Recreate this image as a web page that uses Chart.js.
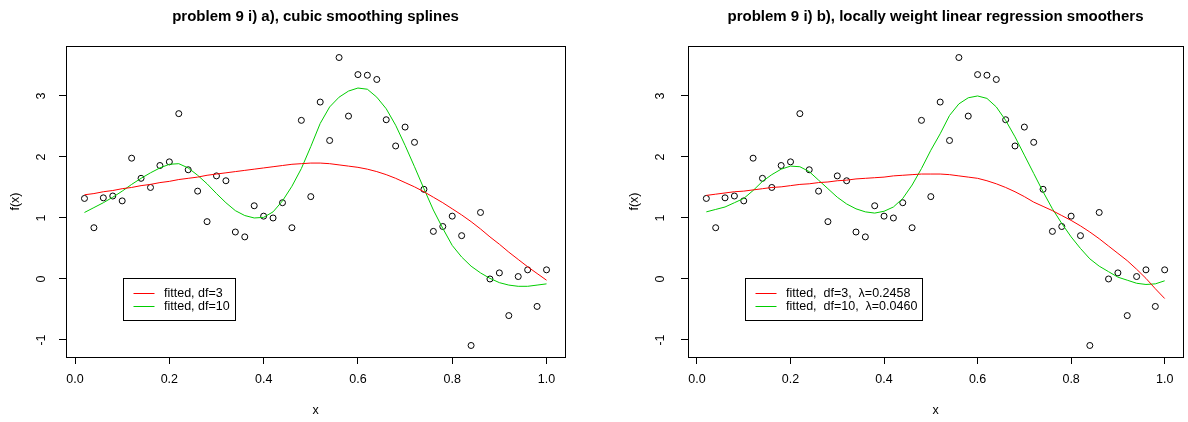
<!DOCTYPE html>
<html>
<head>
<meta charset="utf-8">
<script src="https://cdn.jsdelivr.net/npm/chart.js@4.4.1/dist/chart.umd.min.js"></script>
<style>
  html, body { margin: 0; padding: 0; background: #fff; }
  #wrap { position: relative; width: 1188px; height: 422px; overflow: hidden; }
  canvas { position: absolute; top: 0; }
  #left { left: 0; }
  #right { left: 622px; }
</style>
</head>
<body>
<div id="wrap">
  <canvas id="left" width="594" height="422"></canvas>
  <canvas id="right" width="566" height="422"></canvas>
</div>
<script>
const xs = [0.02, 0.04, 0.06, 0.08, 0.10, 0.12, 0.14, 0.16, 0.18, 0.20,
            0.22, 0.24, 0.26, 0.28, 0.30, 0.32, 0.34, 0.36, 0.38, 0.40,
            0.42, 0.44, 0.46, 0.48, 0.50, 0.52, 0.54, 0.56, 0.58, 0.60,
            0.62, 0.64, 0.66, 0.68, 0.70, 0.72, 0.74, 0.76, 0.78, 0.80,
            0.82, 0.84, 0.86, 0.88, 0.90, 0.92, 0.94, 0.96, 0.98, 1.00];
const yObs = [1.32, 0.84, 1.33, 1.36, 1.28, 1.98, 1.65, 1.50, 1.86, 1.92,
              2.71, 1.79, 1.44, 0.94, 1.69, 1.61, 0.77, 0.69, 1.20, 1.03,
              1.00, 1.25, 0.84, 2.60, 1.35, 2.90, 2.27, 3.63, 2.67, 3.35,
              3.34, 3.27, 2.61, 2.18, 2.49, 2.24, 1.47, 0.78, 0.86, 1.03,
              0.71, -1.09, 1.09, 0.00, 0.10, -0.60, 0.04, 0.15, -0.45, 0.15];

// a) smoothing splines
const splineDf3 = [1.38, 1.40, 1.43, 1.45, 1.48, 1.50, 1.53, 1.55, 1.58, 1.60,
                   1.63, 1.65, 1.67, 1.70, 1.72, 1.74, 1.76, 1.78, 1.80, 1.82,
                   1.84, 1.86, 1.88, 1.89, 1.90, 1.90, 1.89, 1.87, 1.85, 1.83,
                   1.80, 1.76, 1.71, 1.65, 1.58, 1.51, 1.43, 1.34, 1.25, 1.15,
                   1.05, 0.94, 0.82, 0.69, 0.57, 0.44, 0.32, 0.20, 0.09, -0.02];
const splineDf10 = [1.09, 1.17, 1.25, 1.34, 1.44, 1.55, 1.65, 1.74, 1.82, 1.88,
                    1.89, 1.82, 1.70, 1.56, 1.40, 1.25, 1.12, 1.04, 1.00, 1.01,
                    1.10, 1.28, 1.52, 1.81, 2.17, 2.55, 2.82, 2.98, 3.08, 3.13,
                    3.11, 2.98, 2.79, 2.52, 2.19, 1.84, 1.48, 1.13, 0.83, 0.55,
                    0.36, 0.21, 0.10, 0.01, -0.06, -0.10, -0.12, -0.12, -0.10, -0.08];

// b) local linear regression
const loessDf3 = [1.37, 1.39, 1.41, 1.43, 1.44, 1.46, 1.48, 1.50, 1.51, 1.53,
                  1.55, 1.56, 1.58, 1.59, 1.61, 1.62, 1.64, 1.65, 1.66, 1.67,
                  1.69, 1.70, 1.71, 1.72, 1.72, 1.72, 1.71, 1.69, 1.67, 1.65,
                  1.61, 1.56, 1.50, 1.43, 1.35, 1.26, 1.19, 1.12, 1.04, 0.96,
                  0.87, 0.77, 0.66, 0.54, 0.42, 0.30, 0.16, 0.01, -0.16, -0.32];
const loessDf10 = [1.10, 1.14, 1.18, 1.25, 1.32, 1.45, 1.60, 1.71, 1.80, 1.85,
                   1.84, 1.76, 1.62, 1.48, 1.34, 1.23, 1.15, 1.10, 1.08, 1.11,
                   1.18, 1.32, 1.54, 1.81, 2.11, 2.38, 2.68, 2.87, 2.97, 3.00,
                   2.96, 2.82, 2.60, 2.33, 2.03, 1.73, 1.43, 1.15, 0.91, 0.69,
                   0.50, 0.33, 0.21, 0.12, 0.03, -0.02, -0.07, -0.09, -0.08, -0.03];

const xTicks = [0, 0.2, 0.4, 0.6, 0.8, 1.0];
const yTicks = [-1, 0, 1, 2, 3];
const splineLabels = ['fitted, df=3', 'fitted, df=10'];
const loessLabels = ['fitted,  df=3,  \u03bb=0.2458', 'fitted,  df=10,  \u03bb=0.0460'];

const FONT = '"Liberation Sans", Arial, sans-serif';

// R-like axis ranges: data range stretched by 4% each side
const xLo = Math.min(...xs), xHi = Math.max(...xs);
const yLo = Math.min(...yObs), yHi = Math.max(...yObs);
const xMin = xLo - 0.04 * (xHi - xLo), xMax = xHi + 0.04 * (xHi - xLo);
const yMin = yLo - 0.04 * (yHi - yLo), yMax = yHi + 0.04 * (yHi - yLo);

function pts(ys) {
  return xs.map((x, i) => ({ x: x, y: ys[i] }));
}

// box around the plot region, main title and the legend
const rFrame = {
  id: 'rFrame',
  afterDraw(chart, args, opts) {
    const { ctx, chartArea: a } = chart;
    ctx.save();
    ctx.strokeStyle = '#000';
    ctx.lineWidth = 1;
    ctx.strokeRect(Math.round(a.left) + 0.5, Math.round(a.top) + 0.5,
                   Math.round(a.right - a.left), Math.round(a.bottom - a.top));

    ctx.fillStyle = '#000';
    ctx.font = 'bold 15px ' + FONT;
    ctx.textAlign = 'center';
    ctx.textBaseline = 'middle';
    ctx.fillText(opts.title, (a.left + a.right) / 2, 16.5);

    ctx.font = '12.5px ' + FONT;
    const items = chart.data.datasets.filter(d => d.inLegend);
    const tw = Math.max(...items.map(d => ctx.measureText(d.label).width));
    const bx = Math.round(a.left + opts.legendX) + 0.5;
    const by = Math.round(a.top + opts.legendY) + 0.5;
    const bw = Math.round(41 + tw + 5);
    const bh = 42;
    ctx.fillStyle = '#fff';
    ctx.fillRect(bx, by, bw, bh);
    ctx.strokeStyle = '#000';
    ctx.strokeRect(bx, by, bw, bh);
    ctx.textAlign = 'left';
    items.forEach((d, i) => {
      const cy = Math.round(by + 14 + i * 13.3) + 0.5;
      ctx.strokeStyle = d.borderColor;
      ctx.beginPath();
      ctx.moveTo(bx + 10, cy);
      ctx.lineTo(bx + 31, cy);
      ctx.stroke();
      ctx.fillStyle = '#000';
      ctx.fillText(d.label, bx + 40.5, cy);
    });
    ctx.restore();
  }
};

function makePanel(id, title, labels, fitA, fitB, pad) {
  const canvas = document.getElementById(id);
  return new Chart(canvas, {
    type: 'line',
    data: {
      datasets: [
        { label: labels[0], data: pts(fitA), borderColor: '#FF0000', borderWidth: 1,
          pointRadius: 0, tension: 0, inLegend: true },
        { label: labels[1], data: pts(fitB), borderColor: '#00CD00', borderWidth: 1,
          pointRadius: 0, tension: 0, inLegend: true },
        { label: 'data', data: pts(yObs), showLine: false, pointRadius: 3,
          pointBorderColor: '#000', pointBackgroundColor: 'rgba(0,0,0,0)', pointBorderWidth: 1 }
      ]
    },
    options: {
      responsive: false,
      animation: false,
      devicePixelRatio: 1,
      layout: { padding: { top: 46, right: pad.right, bottom: 0, left: 0 } },
      plugins: {
        legend: { display: false },
        tooltip: { enabled: false },
        rFrame: { title: title, legendX: 57, legendY: 232 }
      },
      scales: {
        x: {
          type: 'linear',
          min: xMin,
          max: xMax,
          afterBuildTicks: s => { s.ticks = xTicks.map(v => ({ value: v })); },
          afterFit: s => { s.height = 65; },
          ticks: { padding: 8.5, color: '#000', font: { family: FONT, size: 12.5 },
                   callback: v => v.toFixed(1) },
          grid: { drawOnChartArea: false, drawTicks: true, tickLength: 7, color: '#000' },
          border: { display: true, color: '#000' },
          title: { display: true, text: 'x', color: '#000', font: { family: FONT, size: 12.5 },
                   padding: { top: 0, bottom: 3.5 } }
        },
        y: {
          type: 'linear',
          min: yMin,
          max: yMax,
          afterBuildTicks: s => { s.ticks = yTicks.map(v => ({ value: v })); },
          afterFit: s => { s.width = 66; },
          ticks: { padding: pad.tick, minRotation: 90, maxRotation: 90, crossAlign: 'center',
                   color: '#000', font: { family: FONT, size: 12.5 }, callback: v => String(v) },
          grid: { drawOnChartArea: false, drawTicks: true, tickLength: 7, color: '#000' },
          border: { display: true, color: '#000' },
          title: { display: true, text: 'f(x)', color: '#000', font: { family: FONT, size: 12.5 },
                   padding: { top: pad.title, bottom: 0 } }
        }
      }
    },
    plugins: [rFrame]
  });
}

makePanel('left', 'problem 9 i) a), cubic smoothing splines', splineLabels,
          splineDf3, splineDf10, { right: 29, tick: 11.7, title: 8.5 });
makePanel('right', 'problem 9 i) b), locally weight linear regression smoothers', loessLabels,
          loessDf3, loessDf10, { right: 1, tick: 14.7, title: 5.5 });
</script>
</body>
</html>
